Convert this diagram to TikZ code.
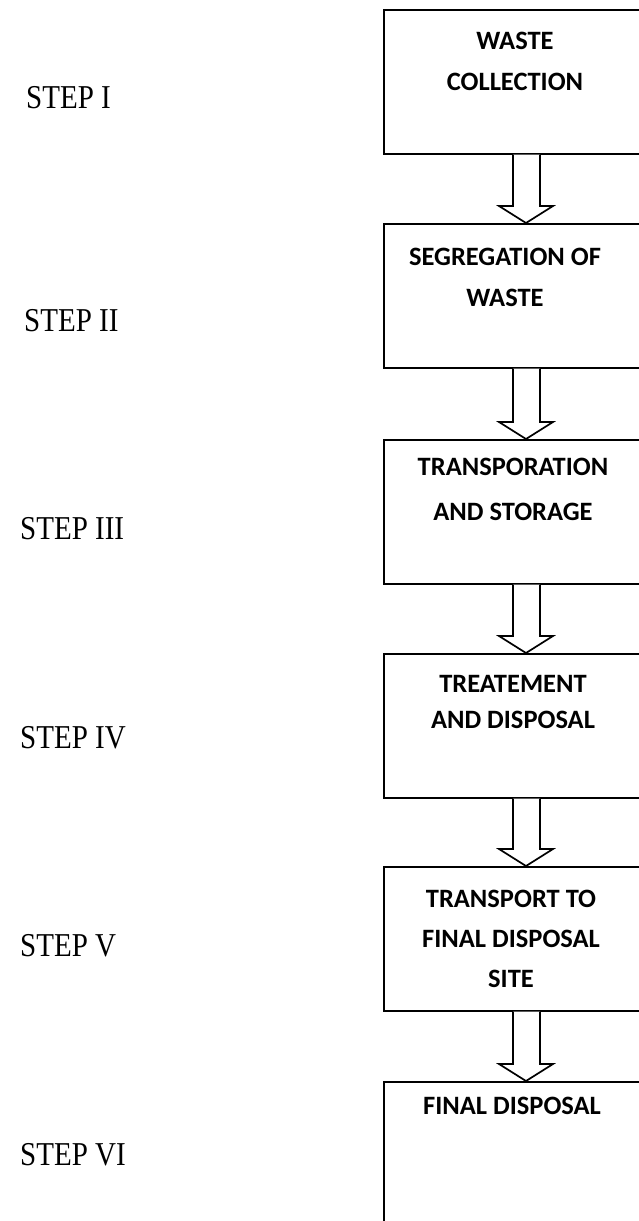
\documentclass[tikz,border=0pt]{standalone}
\usepackage{fontspec}
\setmainfont{Liberation Serif}
\newfontfamily\boxfont{Carlito}
\usetikzlibrary{calc}
\tikzset{
  x=1pt, y=1pt,
  stepbox/.style={draw=black, line width=1.7pt, minimum width=258pt, minimum height=144pt, inner sep=0pt, anchor=north},
  boxtext/.style={anchor=north, inner sep=0pt, align=center, font=\boxfont\bfseries\fontsize{26.5}{41}\selectfont},
  steplabel/.style={anchor=base west, inner sep=0pt, font=\fontsize{29}{34}\selectfont},
  blockarrow/.style={draw=black, line width=1.7pt, fill=white, line join=miter}
}
\newcommand{\tallstep}[1]{\scalebox{1}[1.15]{#1}}
\begin{document}
\begin{tikzpicture}
\useasboundingbox (0,0) rectangle (639,-1221);
\begin{scope}
\clip (0,0) rectangle (639,-1221);
% boxes
\node[stepbox] (b1) at (513,-9) {};
\node[stepbox] (b2) at (513,-223) {};
\node[stepbox] (b3) at (513,-439) {};
\node[stepbox] (b4) at (513,-653) {};
\node[stepbox] (b5) at (513,-866) {};
\node[stepbox, minimum height=160pt] (b6) at (513,-1081) {};
% box texts
\node[boxtext] (t1) at (515,-32) {WASTE\\COLLECTION};
\node[boxtext] (t2) at (505,-248) {SEGREGATION OF\\WASTE};
\node[boxtext, font=\boxfont\bfseries\fontsize{26.5}{45}\selectfont] (t3) at (513,-458) {TRANSPORATION\\AND STORAGE};
\node[boxtext, font=\boxfont\bfseries\fontsize{26.5}{36}\selectfont] (t4) at (513,-675) {TREATEMENT\\AND DISPOSAL};
\node[boxtext, font=\boxfont\bfseries\fontsize{26.5}{40}\selectfont] (t5) at (511,-890) {TRANSPORT TO\\FINAL DISPOSAL\\SITE};
\node[boxtext] (t6) at (512,-1097) {FINAL DISPOSAL};
% block arrows
\foreach \a/\b in {b1/b2, b2/b3, b3/b4, b4/b5, b5/b6}{
  \draw[blockarrow] ($(\a.south)+(0,0)$) -- ($(\b.north)+(0,17)$) -- ($(\b.north)+(-14,17)$)
     -- ($(\b.north)+(13,0)$) -- ($(\b.north)+(40,17)$) -- ($(\b.north)+(27,17)$)
     -- ($(\a.south)+(27,0)$);
}
\end{scope}
% step labels
\node[steplabel] (s1) at (26,-108) {\tallstep{STEP I}};
\node[steplabel] (s2) at (24,-331) {\tallstep{STEP II}};
\node[steplabel] (s3) at (20,-539) {\tallstep{STEP III}};
\node[steplabel] (s4) at (20,-748) {\tallstep{STEP IV}};
\node[steplabel] (s5) at (20,-956) {\tallstep{STEP V}};
\node[steplabel] (s6) at (20,-1165) {\tallstep{STEP VI}};
\end{tikzpicture}
\end{document}
